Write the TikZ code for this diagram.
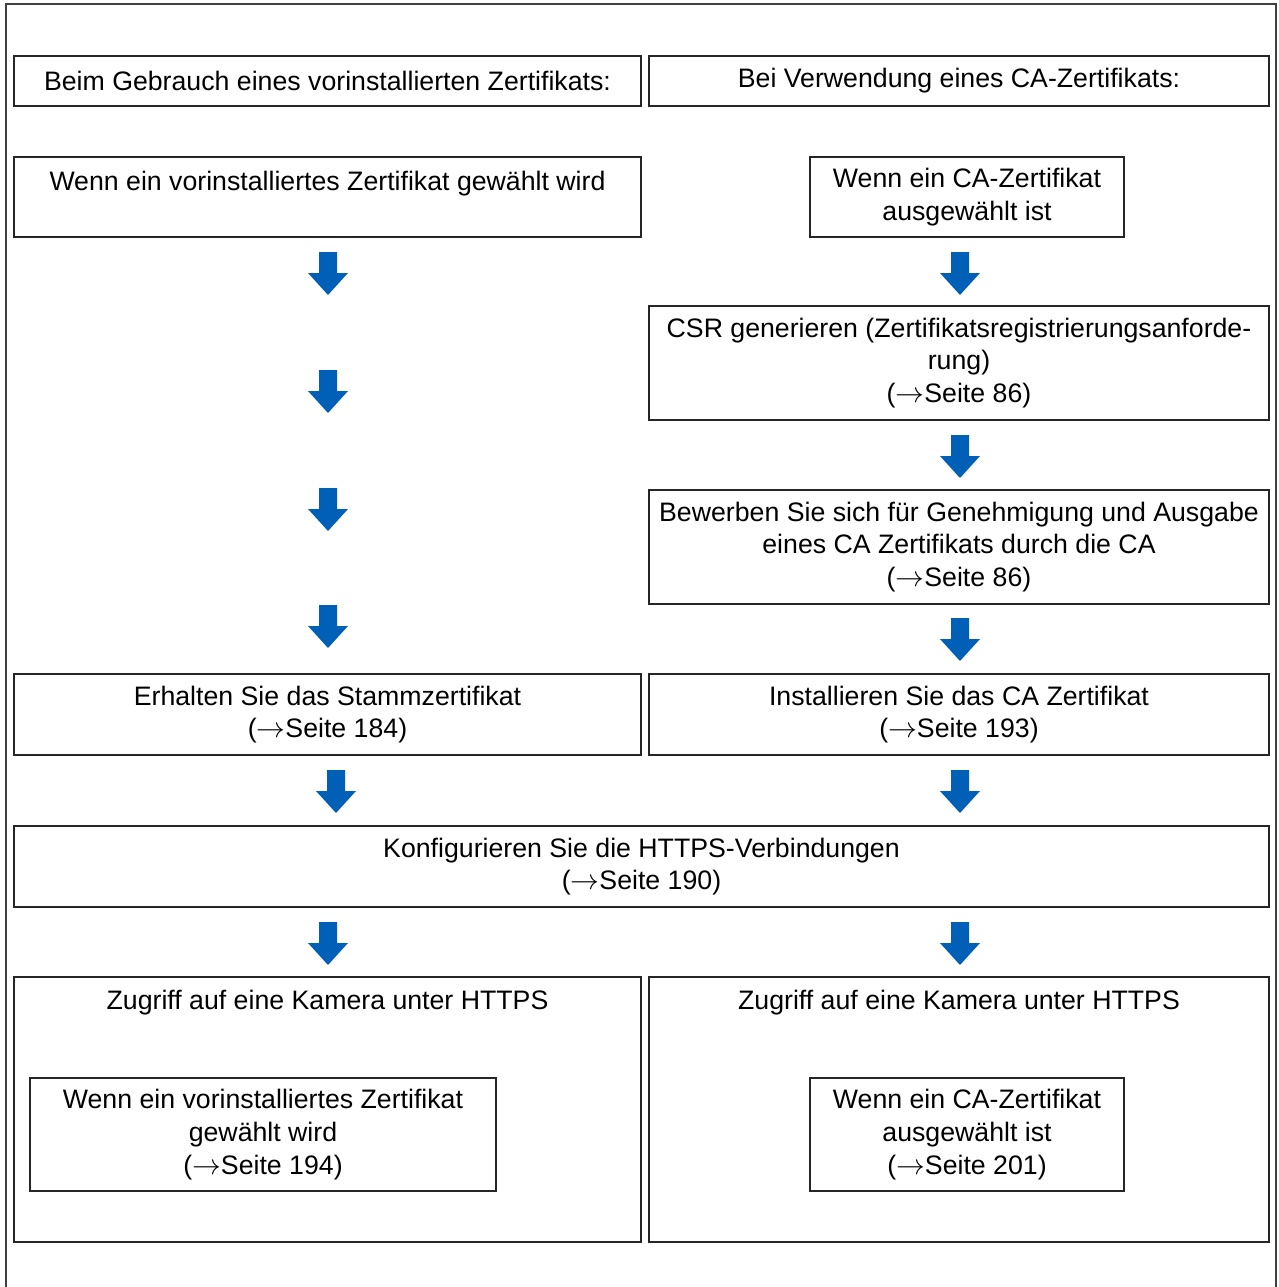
\documentclass[tikz,border=0pt]{standalone}
\usepackage{fontspec}
\setmainfont{Liberation Sans}
\begin{document}
\begin{tikzpicture}[x=0.5pt, y=-0.5pt, font=\fontsize{13.35}{16.4}\selectfont]
	\definecolor{arrowblue}{RGB}{0, 96, 184}
	\tikzset{
		box/.style={draw=black!85, line width=0.6pt, inner sep=0pt, align=center},
		txt/.style={inner sep=0pt, align=center},
		downarrow/.pic={\fill[arrowblue] (-9,0) -- (9,0) -- (9,21) -- (20,21) -- (0,43) -- (-20,21) -- (-9,21) -- cycle;}
	}
	\useasboundingbox (0,0) rectangle (1279,1287);
	
	% Rahmen
	\draw[black!75, line width=0.6pt] (6,1290) -- (6,4) -- (1276,4) -- (1276,1290);
	
	% Überschriften
	\node[box, minimum width=313.5pt, minimum height=25pt] (hdrL) at (327.5,81) {Beim Gebrauch eines vorinstallierten Zertifikats:};
	\node[box, minimum width=310pt, minimum height=25pt] (hdrR) at (959,81) {Bei Verwendung eines CA-Zertifikats:};
	
	% linke Spalte
	\node[box, minimum width=313.5pt, minimum height=40pt] (preL) at (327.5,197) {};
	\node[txt] (preLtxt) at (327.5,184) {Wenn ein vorinstalliertes Zertifikat gewählt wird};
	\node[box, minimum width=313.5pt, minimum height=40.5pt] (rootL) at (327.5,714.5) {Erhalten Sie das Stammzertifikat\\($\rightarrow$Seite 184)};
	
	% rechte Spalte
	\node[box, minimum width=157pt, minimum height=40pt] (caR) at (967,197) {Wenn ein CA-Zertifikat\\ausgewählt ist};
	\node[box, minimum width=310pt, minimum height=57pt] (csrR) at (959,363) {CSR generieren (Zertifikatsregistrierungsanforde-\\rung)\\($\rightarrow$Seite 86)};
	\node[box, minimum width=310pt, minimum height=57pt] (applyR) at (959,547) {Bewerben Sie sich für Genehmigung und Ausgabe\\eines CA Zertifikats durch die CA\\($\rightarrow$Seite 86)};
	\node[box, minimum width=310pt, minimum height=40.5pt] (instR) at (959,714.5) {Installieren Sie das CA Zertifikat\\($\rightarrow$Seite 193)};
	
	% gemeinsamer Schritt
	\node[box, minimum width=627.5pt, minimum height=40.5pt] (https) at (641.5,866.5) {Konfigurieren Sie die HTTPS-Verbindungen\\($\rightarrow$Seite 190)};
	
	% Zugriff
	\node[box, minimum width=313.5pt, minimum height=132.5pt] (accL) at (327.5,1109.5) {};
	\node[txt] (accLtxt) at (327.5,1003) {Zugriff auf eine Kamera unter HTTPS};
	\node[box, minimum width=233pt, minimum height=56.5pt] (accLin) at (263,1134.5) {Wenn ein vorinstalliertes Zertifikat\\gewählt wird\\($\rightarrow$Seite 194)};
	\node[box, minimum width=310pt, minimum height=132.5pt] (accR) at (959,1109.5) {};
	\node[txt] (accRtxt) at (959,1003) {Zugriff auf eine Kamera unter HTTPS};
	\node[box, minimum width=157pt, minimum height=56.5pt] (accRin) at (967,1134.5) {Wenn ein CA-Zertifikat\\ausgewählt ist\\($\rightarrow$Seite 201)};
	
	% Pfeile
	\foreach \y in {252,370,488,605,922} \pic at (328,\y) {downarrow};
	\foreach \y in {252,435,618,770,922} \pic at (960,\y) {downarrow};
	\pic at (336,770) {downarrow};
\end{tikzpicture}
\end{document}
